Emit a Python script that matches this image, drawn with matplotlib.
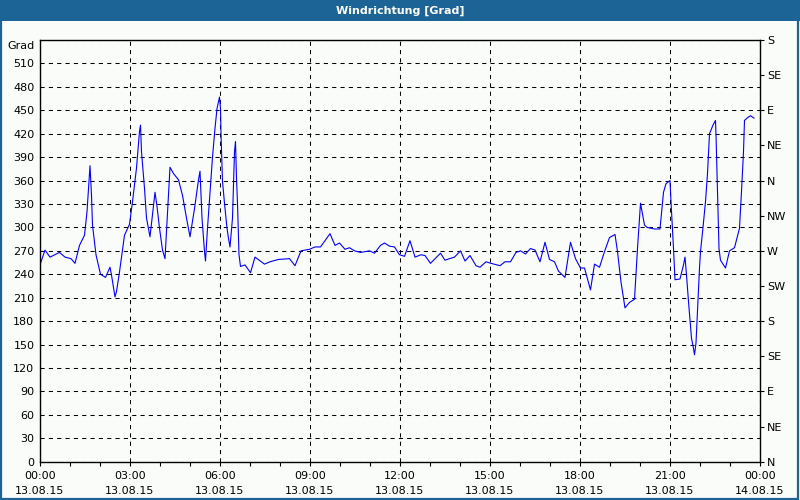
import matplotlib
matplotlib.use("Agg")
import matplotlib.pyplot as plt
from matplotlib.patches import Rectangle
from matplotlib.transforms import ScaledTranslation
import numpy as np

# ---- data (minutes after 13.08.15 00:00, wind direction in degrees) ----
minutes = [0, 10, 20, 39, 50, 62, 70, 79, 89, 94, 100, 103, 105, 112, 121, 131, 140, 143,
           150, 153, 159, 169, 179, 185, 193, 199, 201, 203, 209, 213, 220, 225, 230, 234,
           239, 245, 250, 253, 257, 260, 267, 277, 285, 293, 300, 309, 317, 320, 324, 329,
           331, 335, 341, 345, 350, 354, 359, 361, 362, 365, 369, 374, 377, 380, 385, 389,
           391, 393, 395, 398, 401, 410, 421, 430, 449, 460, 477, 499, 510, 522, 539, 550,
           561, 580, 590, 599, 610, 619, 629, 641, 659, 669, 681, 689, 699, 709, 719, 729,
           740, 750, 762, 770, 781, 801, 810, 819, 829, 841, 850, 860, 872, 880, 892, 902,
           920, 930, 941, 952, 961, 971, 981, 990, 1000, 1010, 1019, 1029, 1037, 1050, 1061,
           1071, 1081, 1089, 1101, 1109, 1119, 1129, 1139, 1150, 1155, 1162, 1170, 1179,
           1189, 1195, 1201, 1209, 1214, 1229, 1240, 1247, 1252, 1260, 1262, 1267, 1270,
           1280, 1287, 1290, 1293, 1297, 1303, 1307, 1309, 1312, 1315, 1319, 1321, 1326,
           1331, 1335, 1339, 1346, 1351, 1352, 1355, 1358, 1361, 1371, 1379, 1389, 1399,
           1403, 1407, 1409, 1416, 1421, 1428]
direction = [252, 271, 262, 268, 262, 260, 254, 277, 290, 320, 379, 341, 303, 265, 240, 236,
             249, 239, 211, 218, 243, 290, 304, 333, 376, 423, 431, 397, 350, 312, 288, 316,
             345, 327, 299, 271, 260, 295, 341, 377, 369, 361, 341, 312, 288, 324, 361, 372,
             312, 269, 257, 299, 354, 390, 427, 452, 467, 452, 420, 359, 331, 299, 286, 275,
             312, 397, 410, 363, 331, 265, 250, 252, 242, 262, 253, 256, 259, 260, 251, 270,
             272, 275, 275, 292, 277, 280, 272, 274, 270, 268, 270, 267, 277, 280, 276, 275,
             265, 263, 283, 262, 265, 264, 254, 267, 258, 260, 262, 270, 257, 264, 251, 249,
             256, 254, 251, 256, 256, 268, 270, 266, 273, 271, 256, 281, 259, 256, 244, 236,
             281, 260, 248, 248, 220, 253, 249, 269, 287, 291, 269, 230, 197, 204, 208, 273,
             331, 303, 300, 298, 298, 345, 356, 360, 333, 273, 233, 234, 252, 262, 239, 205,
             158, 145, 137, 152, 192, 248, 269, 300, 333, 369, 420, 431, 437, 419, 346, 273,
             258, 248, 270, 274, 299, 346, 397, 437, 441, 443, 440]

y_ticks = list(range(0, 541, 30))
y_labels = [str(v) for v in range(0, 511, 30)] + ["Grad"]
compass_ticks = list(range(0, 541, 45))
compass_labels = ["N", "NE", "E", "SE", "S", "SW", "W", "NW", "N", "NE", "E", "SE", "S"]
x_tick_hours = list(range(0, 25, 3))
x_labels = ["00:00\n13.08.15", "03:00\n13.08.15", "06:00\n13.08.15", "09:00\n13.08.15",
            "12:00\n13.08.15", "15:00\n13.08.15", "18:00\n13.08.15", "21:00\n13.08.15",
            "00:00\n14.08.15"]
title = "Windrichtung [Grad]"

# ---- figure ----
bg = "#fafcfa"
blue = "#1d6496"
fig = plt.figure(figsize=(8, 5), dpi=100, facecolor=bg)

# title bar + frame
fig.patches.append(Rectangle((0, 1 - 21 / 500), 1, 21 / 500, transform=fig.transFigure,
                             facecolor=blue, edgecolor="none", zorder=0))
fig.patches.append(Rectangle((0.001, 0.002), 0.997, 0.996, transform=fig.transFigure,
                             facecolor="none", edgecolor=blue, linewidth=1.6, zorder=1))
fig.text(0.5, 1 - 10.5 / 500, title, color="white", fontsize=8, fontweight="bold",
         ha="center", va="center")

ax = fig.add_axes([40 / 800, 1 - 461.7 / 500, 720 / 800, (461.7 - 40) / 500])
ax.set_facecolor(bg)

hours = np.array(minutes) / 60.0
ax.plot(hours, direction, color="#0000ff", linewidth=0.8)

ax.set_xlim(0, 24)
ax.set_ylim(0, 540)

ax.set_yticks(y_ticks)
ax.set_yticklabels(y_labels, fontsize=8)
ax.tick_params(axis="y", which="major", length=0, pad=4)
# "Grad" unit label sits slightly below the top edge
grad_lbl = ax.get_yticklabels()[-1]
grad_lbl.set_transform(grad_lbl.get_transform() + ScaledTranslation(0, -5 / 100, fig.dpi_scale_trans))

ax.set_xticks(x_tick_hours)
ax.set_xticklabels(x_labels, fontsize=8, linespacing=1.55)
ax.set_xticks(list(range(0, 25)), minor=True)
ax.tick_params(axis="x", which="both", direction="out", length=3, width=0.8, pad=4)

for s in ax.spines.values():
    s.set_color("black")
    s.set_linewidth(1.0)

ax.grid(True, which="major", color="black", linestyle=(0, (4, 4)), linewidth=0.75)

ax2 = ax.twinx()
ax2.set_ylim(0, 540)
ax2.set_yticks(compass_ticks)
ax2.set_yticklabels(compass_labels, fontsize=8)
ax2.tick_params(axis="y", direction="out", length=3, width=0.8, pad=2)
for s in ax2.spines.values():
    s.set_visible(False)

fig.savefig("out.png", dpi=100, facecolor=bg)
